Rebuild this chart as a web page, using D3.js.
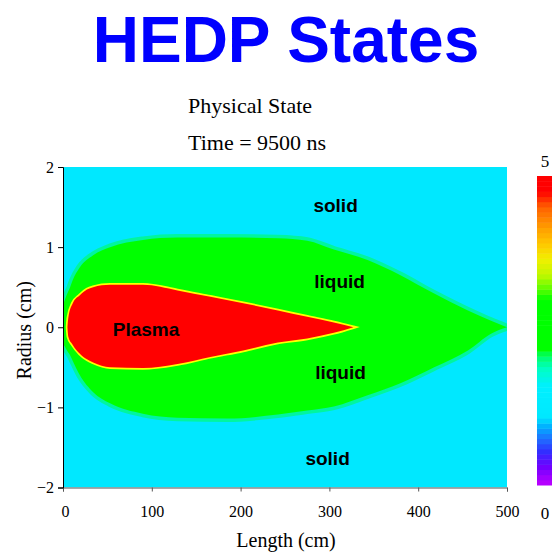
<!DOCTYPE html>
<html>
<head>
<meta charset="utf-8">
<script src="https://cdn.jsdelivr.net/npm/d3@7"></script>
<style>
  body { margin: 0; background: #fff; }
  svg { display: block; }
</style>
</head>
<body>
<div id="plot"></div>
<script>
// Liquid region boundary (length in cm, radius in cm)
const liquidLen    = [0, 4, 8, 11, 19, 34, 53, 90, 129, 185, 242, 275, 305, 343, 380, 418, 456, 482, 500];
const liquidTop    = [0.28, 0.4, 0.5, 0.59, 0.75, 0.9, 1.0, 1.09, 1.12, 1.12, 1.11, 1.08, 0.97, 0.84, 0.65, 0.42, 0.21, 0.08, 0];
const liquidBottom = [-0.2, -0.28, -0.35, -0.42, -0.6, -0.81, -0.95, -1.08, -1.13, -1.14, -1.09, -1.04, -0.99, -0.85, -0.7, -0.5, -0.29, -0.08, 0];

// Plasma region boundary
const plasmaLen    = [5, 6, 11, 19, 27, 34, 53, 90, 129, 166, 203, 242, 275, 305, 327];
const plasmaTop    = [0, 0.12, 0.3, 0.4, 0.47, 0.5, 0.53, 0.53, 0.46, 0.38, 0.3, 0.21, 0.13, 0.06, 0];
const plasmaBottom = [0, -0.12, -0.22, -0.33, -0.4, -0.44, -0.5, -0.51, -0.46, -0.37, -0.29, -0.19, -0.14, -0.07, 0];

// Region labels
const labelText = ["solid", "liquid", "Plasma", "liquid", "solid"];
const labelLen  = [282, 283, 56, 284, 273];
const labelR    = [1.44, 0.49, -0.11, -0.64, -1.72];

// Axis ticks
const xTicks = [0, 100, 200, 300, 400, 500];
const yTicks = [-2, -1, 0, 1, 2];

// Colour bar stops (state value 0..5)
const cbarValues = [0, 0.3, 0.55, 0.75, 0.95, 1.1, 1.6, 1.9, 2.1, 2.2, 3.0, 3.15, 3.4, 3.65, 3.9, 4.15, 4.5, 4.75, 5];
const cbarColors = ["#c000ff", "#7000ff", "#3030ff", "#2070ff", "#00b0ff", "#00e8ff", "#00f0ff", "#00ffc0", "#00ff60", "#00ff00",
                    "#00ff00", "#50ff00", "#c0f800", "#f0f000", "#ffc800", "#ffa000", "#ff6000", "#ff0000", "#ff0000"];

const width = 558, height = 556;
const svg = d3.select("#plot").append("svg")
    .attr("width", width)
    .attr("height", height);

const x = d3.scaleLinear().domain([0, 500]).range([63, 507]);
const y = d3.scaleLinear().domain([-2, 2]).range([487.5, 167]);
const serif = "'Liberation Serif', 'Times New Roman', serif";

// Title
svg.append("text")
    .attr("x", 286).attr("y", 62)
    .attr("text-anchor", "middle")
    .style("font-family", "'Liberation Sans', Arial, sans-serif")
    .style("font-weight", "bold")
    .style("font-size", "64px")
    .attr("fill", "#0000ff")
    .text("HEDP States");

svg.append("text")
    .attr("x", 188).attr("y", 113)
    .style("font-family", serif)
    .style("font-size", "22px")
    .text("Physical State");

svg.append("text")
    .attr("x", 188).attr("y", 150)
    .style("font-family", serif)
    .style("font-size", "22px")
    .text("Time = 9500 ns");

// Clip for the field
svg.append("clipPath").attr("id", "clip")
    .append("rect")
    .attr("x", x(0)).attr("y", y(2))
    .attr("width", x(500) - x(0)).attr("height", y(-2) - y(2));

const field = svg.append("g").attr("clip-path", "url(#clip)");

// Solid background
field.append("rect")
    .attr("x", x(0)).attr("y", y(2))
    .attr("width", x(500) - x(0)).attr("height", y(-2) - y(2))
    .attr("fill", "#00e8ff");

const area = (lens, top, bot) => d3.area()
    .x((d, i) => x(lens[i]))
    .y0((d, i) => y(bot[i]))
    .y1((d, i) => y(top[i]))
    .curve(d3.curveMonotoneX)(lens);

const liquidPath = area(liquidLen, liquidTop, liquidBottom);
const plasmaPath = area(plasmaLen, plasmaTop, plasmaBottom);

// liquid with thin transition band
field.append("path").attr("d", liquidPath)
    .attr("fill", "#00f5a0").attr("stroke", "#00f5a0").attr("stroke-width", 7);
field.append("path").attr("d", liquidPath).attr("fill", "#00ff00");

// plasma with yellow rim
field.append("path").attr("d", plasmaPath)
    .attr("fill", "#ffff00").attr("stroke", "#ffff00").attr("stroke-width", 3.5)
    .attr("stroke-miterlimit", 12);
field.append("path").attr("d", plasmaPath).attr("fill", "#ff0000");

// Region labels
svg.append("g").selectAll("text")
    .data(labelText)
    .enter().append("text")
    .attr("x", (d, i) => x(labelLen[i]))
    .attr("y", (d, i) => y(labelR[i]))
    .style("font-family", "'Liberation Sans', Arial, sans-serif")
    .style("font-weight", "bold")
    .style("font-size", "19px")
    .attr("fill", "#000")
    .text(d => d);

// Axes
const xAxis = svg.append("g")
    .attr("transform", `translate(0,${y(-2)})`)
    .call(d3.axisBottom(x).tickValues(xTicks).tickSize(4).tickPadding(14).tickFormat(d3.format("d")));
xAxis.select(".domain").attr("stroke", "#555");
xAxis.selectAll(".tick line").attr("stroke", "#555");
xAxis.selectAll("text").style("font-family", serif).style("font-size", "16px").attr("fill", "#000");
xAxis.selectAll(".tick").filter(d => d === 0).select("text").attr("dx", 2);

const yAxis = svg.append("g")
    .attr("transform", `translate(${x(0)},0)`)
    .call(d3.axisLeft(y).tickValues(yTicks).tickSize(5).tickPadding(4).tickFormat(d3.format("d")));
yAxis.select(".domain").attr("stroke", "#000");
yAxis.selectAll("text").style("font-family", serif).style("font-size", "16px").attr("fill", "#000");

svg.append("text")
    .attr("x", 286).attr("y", 547)
    .attr("text-anchor", "middle")
    .style("font-family", serif)
    .style("font-size", "20px")
    .text("Length (cm)");

svg.append("text")
    .attr("transform", `translate(31,${y(0) + 3}) rotate(-90)`)
    .attr("text-anchor", "middle")
    .style("font-family", serif)
    .style("font-size", "20px")
    .text("Radius (cm)");

// Colour bar
const cScale = d3.scaleLinear().domain(cbarValues).range(cbarColors);
const cy = d3.scaleLinear().domain([0, 5]).range([485, 176]);
const step = 5 / 60;
svg.append("g").selectAll("rect")
    .data(d3.range(0, 5, step))
    .enter().append("rect")
    .attr("x", 537)
    .attr("width", 15)
    .attr("y", d => cy(d + step))
    .attr("height", d => cy(d) - cy(d + step) + 0.5)
    .attr("fill", d => cScale(d + step / 2));

svg.append("text")
    .attr("x", 545).attr("y", 167)
    .attr("text-anchor", "middle")
    .style("font-family", serif).style("font-size", "17px")
    .text("5");
svg.append("text")
    .attr("x", 545).attr("y", 519)
    .attr("text-anchor", "middle")
    .style("font-family", serif).style("font-size", "17px")
    .text("0");
</script>
</body>
</html>
